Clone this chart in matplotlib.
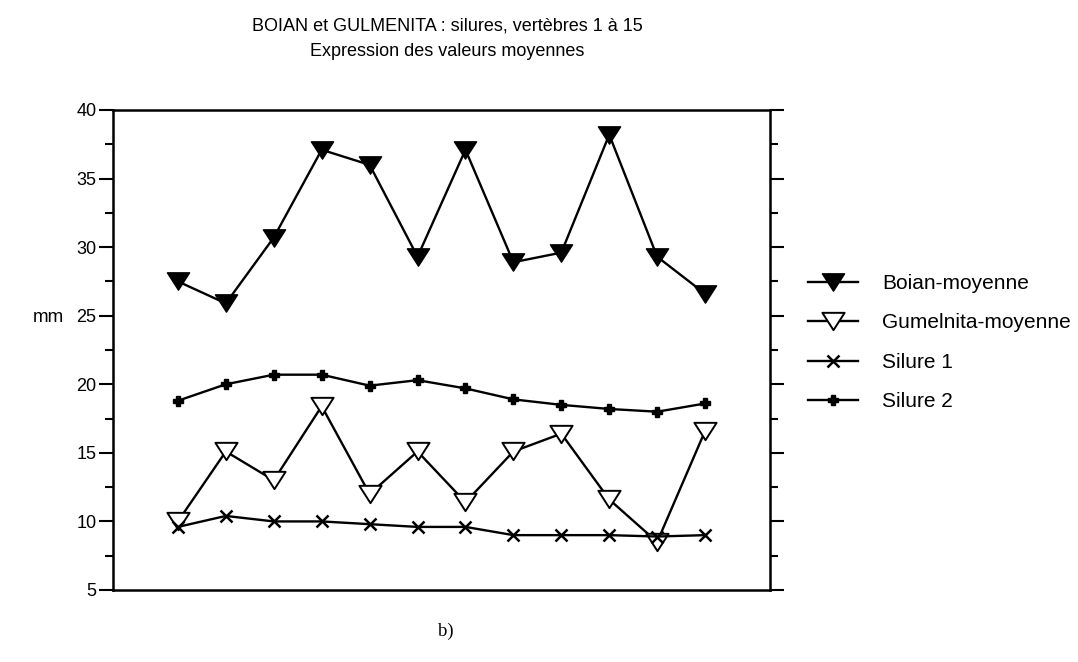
import matplotlib.pyplot as plt
from matplotlib.path import Path
from matplotlib.ticker import MultipleLocator

plt.rcParams['font.family'] = ['Liberation Sans', 'DejaVu Sans']

# mean values per vertebra (mm)
vertebrae = list(range(1, 13))
boian = [27.5, 25.9, 30.7, 37.1, 36.0, 29.3, 37.1, 28.9, 29.6, 38.2, 29.3, 26.6]
gumelnita = [10.0, 15.1, 13.0, 18.4, 12.0, 15.1, 11.4, 15.1, 16.4, 11.6, 8.5, 16.6]
silure1 = [9.6, 10.4, 10.0, 10.0, 9.8, 9.6, 9.6, 9.0, 9.0, 9.0, 8.9, 9.0]
silure2 = [18.8, 20.0, 20.7, 20.7, 19.9, 20.3, 19.7, 18.9, 18.5, 18.2, 18.0, 18.6]

# flattened downward triangle
tri = Path([(-1, 0.78), (1, 0.78), (0, -0.78), (-1, 0.78)],
           [Path.MOVETO, Path.LINETO, Path.LINETO, Path.CLOSEPOLY])

fig = plt.figure(figsize=(10.78, 6.62), dpi=100)
ax = fig.add_axes([113/1078, 1 - 590/662, 657/1078, 480/662])

lw = 1.7
ax.plot(vertebrae, boian, color='black', lw=lw, marker=tri, ms=16,
        mfc='black', mec='black', label='Boian-moyenne', zorder=3)
ax.plot(vertebrae, gumelnita, color='black', lw=lw, marker=tri, ms=16,
        mfc='white', mec='black', mew=1.4, label='Gumelnita-moyenne', zorder=3)
ax.plot(vertebrae, silure1, color='black', lw=lw, marker='x', ms=8,
        mew=1.8, label='Silure 1', zorder=3)
ax.plot(vertebrae, silure2, color='black', lw=lw, marker='P', ms=7,
        mfc='black', mec='black', label='Silure 2', zorder=3)

ax.set_xlim(1 - 65/48, 12 + 65/48)
ax.set_ylim(5, 40)
ax.yaxis.set_major_locator(MultipleLocator(5))
ax.yaxis.set_minor_locator(MultipleLocator(2.5))
ax.set_xticks([])
ax.tick_params(axis='y', which='both', direction='out', left=True, right=True,
               labelright=False, width=1.5, labelsize=13, pad=2)
ax.tick_params(axis='y', which='major', length=10)
ax.tick_params(axis='y', which='minor', length=6)
for s in ax.spines.values():
    s.set_linewidth(1.8)

ax.set_ylabel('mm', rotation=0, fontsize=13.5, va='center', ha='center')
ax.yaxis.set_label_coords(-0.099, 0.567)

fig.text(447/1078, 1 - 39/662,
         'BOIAN et GULMENITA : silures, vertèbres 1 à 15\nExpression des valeurs moyennes',
         ha='center', va='center', fontsize=13, linespacing=1.65)
fig.text(446/1078, 1 - 631/662, 'b)', ha='center', va='center', fontsize=13.5,
         family='Liberation Serif')

fig.legend(loc='upper left', bbox_to_anchor=(808/1078, 1 - 274/662),
           frameon=False, borderaxespad=0, borderpad=0, fontsize=15,
           handlelength=2.4, handletextpad=1.15, labelspacing=0.98)

fig.savefig('out.png', dpi=100)
